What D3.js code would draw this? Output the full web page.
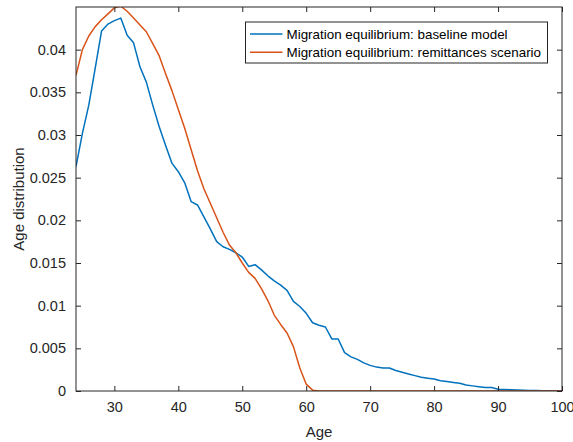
<!DOCTYPE html>
<html>
<head>
<meta charset="utf-8">
<script src="https://cdn.jsdelivr.net/npm/d3@7"></script>
<style>
  body { margin: 0; background: #fff; }
  svg { display: block; font-family: "Liberation Sans", Arial, Helvetica, sans-serif; }
</style>
</head>
<body>
<div id="chart"></div>
<script>
const ages = d3.range(24, 101);

const baseline = [
  0.0263, 0.0302, 0.0335, 0.0378, 0.0422, 0.0430, 0.0434, 0.0437, 0.0417, 0.0408,
  0.0380, 0.0362, 0.0335, 0.0310, 0.0288, 0.0267, 0.0257, 0.0244, 0.0222, 0.0218,
  0.0204, 0.0190, 0.0175, 0.0169, 0.0166, 0.0162, 0.0157, 0.0146, 0.0148, 0.0142,
  0.0135, 0.0129, 0.0124, 0.0118, 0.0105, 0.0099, 0.0091, 0.0080, 0.0077, 0.0075,
  0.0061, 0.0061, 0.0045, 0.0040, 0.0037, 0.0033, 0.0030, 0.0028, 0.0027, 0.0027,
  0.0024, 0.0022, 0.0020, 0.0018, 0.0016, 0.0015, 0.0014, 0.0012, 0.0011, 0.0010,
  0.0009, 0.0007, 0.0006, 0.0005, 0.0004, 0.0004, 0.0002, 0.00018, 0.00015, 0.00012,
  0.0001, 0.00007, 0.00005, 0.00003, 0.00002, 0.00001, 0
];

const remittances = [
  0.0370, 0.0400, 0.0416, 0.0427, 0.0435, 0.0442, 0.0449, 0.0451, 0.0445, 0.0437,
  0.0429, 0.0421, 0.0407, 0.0393, 0.0372, 0.0352, 0.0330, 0.0308, 0.0283, 0.0258,
  0.0237, 0.0220, 0.0203, 0.0186, 0.0171, 0.0162, 0.0150, 0.0139, 0.0132, 0.0120,
  0.0106, 0.0089, 0.0078, 0.0068, 0.0052, 0.0027, 0.0008, 0.0001, 0, 0,
  0, 0, 0, 0, 0, 0, 0, 0, 0, 0,
  0, 0, 0, 0, 0, 0, 0, 0, 0, 0,
  0, 0, 0, 0, 0, 0, 0, 0, 0, 0,
  0, 0, 0, 0, 0, 0, 0
];

const xTicks = [30, 40, 50, 60, 70, 80, 90, 100];
const yTicks = [0, 0.005, 0.01, 0.015, 0.02, 0.025, 0.03, 0.035, 0.04];
const seriesNames = [
  "Migration equilibrium: baseline model",
  "Migration equilibrium: remittances scenario"
];
const seriesColors = ["#0072BD", "#D95319"];

const width = 573, height = 442;
const margin = { left: 76, right: 11, top: 7, bottom: 51 };
const axisColor = "#262626";

const svg = d3.select("#chart").append("svg")
  .attr("width", width)
  .attr("height", height);

const x = d3.scaleLinear().domain([24, 100]).range([margin.left, width - margin.right]);
const y = d3.scaleLinear().domain([0, 0.045]).range([height - margin.bottom, margin.top]);

// clip for lines
svg.append("clipPath").attr("id", "plot-clip")
  .append("rect")
  .attr("x", margin.left).attr("y", margin.top)
  .attr("width", width - margin.left - margin.right)
  .attr("height", height - margin.top - margin.bottom);

const line = d3.line()
  .x((d, i) => x(ages[i]))
  .y(d => y(d));

[baseline, remittances].forEach((s, k) => {
  svg.append("path")
    .datum(s)
    .attr("clip-path", "url(#plot-clip)")
    .attr("fill", "none")
    .attr("stroke", seriesColors[k])
    .attr("stroke-width", 1.5)
    .attr("stroke-linejoin", "round")
    .attr("d", line);
});

// axes (MATLAB-style: inward ticks, box)
const tickLen = 5;
const xAxis = d3.axisBottom(x).tickValues(xTicks).tickSizeInner(-tickLen).tickSizeOuter(0).tickPadding(11);
const yAxis = d3.axisLeft(y).tickValues(yTicks).tickSizeInner(-tickLen).tickSizeOuter(0).tickPadding(10)
  .tickFormat(d => d === 0 ? "0" : d3.format("")(+d.toFixed(3)));

const gx = svg.append("g")
  .attr("transform", `translate(0,${height - margin.bottom})`)
  .call(xAxis);
const gy = svg.append("g")
  .attr("transform", `translate(${margin.left},0)`)
  .call(yAxis);

const gxTop = svg.append("g")
  .attr("transform", `translate(0,${margin.top})`)
  .call(d3.axisTop(x).tickValues(xTicks).tickSizeInner(-tickLen).tickSizeOuter(0).tickFormat(""));
const gyRight = svg.append("g")
  .attr("transform", `translate(${width - margin.right},0)`)
  .call(d3.axisRight(y).tickValues(yTicks).tickSizeInner(-tickLen).tickSizeOuter(0).tickFormat(""));

[gx, gy, gxTop, gyRight].forEach(g => {
  g.select(".domain").remove();
  g.selectAll(".tick line").attr("stroke", axisColor).attr("stroke-width", 1);
  g.selectAll(".tick text").attr("fill", axisColor).style("font-size", "14.5px");
});

svg.append("rect")
  .attr("x", margin.left).attr("y", margin.top)
  .attr("width", width - margin.left - margin.right)
  .attr("height", height - margin.top - margin.bottom)
  .attr("fill", "none")
  .attr("stroke", axisColor)
  .attr("stroke-width", 1);

// axis labels
svg.append("text")
  .attr("x", x(62))
  .attr("y", 437)
  .attr("text-anchor", "middle")
  .attr("fill", axisColor)
  .style("font-size", "15px")
  .text("Age");

svg.append("text")
  .attr("transform", `translate(24,${y(0.0225)}) rotate(-90)`)
  .attr("text-anchor", "middle")
  .attr("fill", axisColor)
  .style("font-size", "15px")
  .text("Age distribution");

// legend
const legend = svg.append("g").attr("transform", "translate(245.5,22)");
legend.append("rect")
  .attr("width", 302)
  .attr("height", 41)
  .attr("fill", "#fff")
  .attr("stroke", axisColor)
  .attr("stroke-width", 1);

seriesNames.forEach((name, k) => {
  const row = legend.append("g").attr("transform", `translate(0,${12 + k * 18.3})`);
  row.append("line")
    .attr("x1", 4.5).attr("x2", 37)
    .attr("stroke", seriesColors[k])
    .attr("stroke-width", 1.5);
  row.append("text")
    .attr("x", 41)
    .attr("dy", "0.35em")
    .attr("fill", "#000")
    .style("font-size", "13.4px")
    .text(name);
});
</script>
</body>
</html>
